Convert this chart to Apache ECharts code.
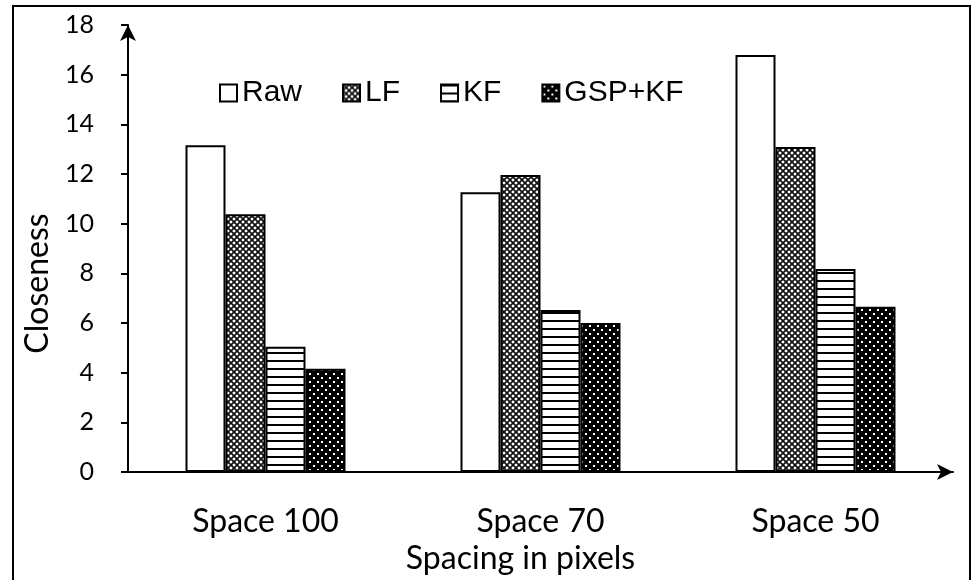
<!DOCTYPE html>
<html>
<head>
<meta charset="utf-8">
<script src="https://cdn.jsdelivr.net/npm/echarts@6/dist/echarts.min.js"></script>
<style>html,body{margin:0;padding:0;background:#fff}#c{width:972px;height:580px}</style>
</head>
<body>
<div id="c"></div>
<script>
const categories = ['Space 100', 'Space 70', 'Space 50'];
const seriesNames = ['Raw', 'LF', 'KF', 'GSP+KF'];
const rawValues = [13.16, 11.27, 16.79];
const lfValues = [10.38, 11.96, 13.09];
const kfValues = [5.04, 6.52, 8.17];
const gspKfValues = [4.16, 6.0, 6.65];
const yTicks = [0, 2, 4, 6, 8, 10, 12, 14, 16, 18];

function pattern(kind) {
  const c = document.createElement('canvas');
  let ctx;
  if (kind === 'lf') {
    c.width = 6; c.height = 6; ctx = c.getContext('2d');
    ctx.fillStyle = '#fff'; ctx.fillRect(0, 0, 6, 6);
    ctx.strokeStyle = '#111'; ctx.lineWidth = 1.7;
    ctx.beginPath();
    ctx.moveTo(-1, -1); ctx.lineTo(7, 7);
    ctx.moveTo(7, -1); ctx.lineTo(-1, 7);
    ctx.stroke();
  } else if (kind === 'kf') {
    c.width = 4; c.height = 8; ctx = c.getContext('2d');
    ctx.fillStyle = '#fff'; ctx.fillRect(0, 0, 4, 8);
    ctx.fillStyle = '#000'; ctx.fillRect(0, 0, 4, 2);
  } else {
    c.width = 8; c.height = 8; ctx = c.getContext('2d');
    ctx.fillStyle = '#000'; ctx.fillRect(0, 0, 8, 8);
    ctx.fillStyle = '#fff';
    ctx.fillRect(1, 1, 2, 2); ctx.fillRect(5, 5, 2, 2);
  }
  return { image: c, repeat: 'repeat' };
}

const fills = ['#ffffff', pattern('lf'), pattern('kf'), pattern('gsp')];
const dataSets = [rawValues, lfValues, kfValues, gspKfValues];

const chart = echarts.init(document.getElementById('c'), null, { renderer: 'canvas' });
const catFont = 'Lato';
chart.setOption({
  animation: false,
  backgroundColor: '#fff',
  graphic: [{
    type: 'rect', shape: { x: 13, y: 6, width: 957, height: 590 },
    style: { fill: 'none', stroke: '#000', lineWidth: 2 }, silent: true, z: -1
  }],
  legend: {
    left: 214, top: 73,
    itemWidth: 17, itemHeight: 17, itemGap: 40,
    icon: 'rect',
    textStyle: { fontFamily: 'Liberation Sans', fontSize: 30, color: '#000' },
    data: seriesNames
  },
  grid: { left: 128, right: 19, top: 25, bottom: 108, containLabel: false, outerBoundsMode: 'none' },
  xAxis: {
    type: 'category', data: categories,
    axisLine: { lineStyle: { color: '#000', width: 2 }, symbol: ['none', 'arrow'], symbolSize: [12, 16] },
    axisTick: { show: false },
    axisLabel: { fontFamily: catFont, fontSize: 32, color: '#000', margin: 34 },
    name: 'Spacing in pixels', nameLocation: 'middle', nameGap: 70,
    nameTextStyle: { fontFamily: catFont, fontSize: 32, color: '#000', padding: [0, 40, 0, 0] }
  },
  yAxis: {
    type: 'value', min: 0, max: 18, interval: 2,
    axisLine: { show: true, lineStyle: { color: '#000', width: 2 }, symbol: ['none', 'arrow'], symbolSize: [12, 16] },
    axisTick: { show: true, length: 7, lineStyle: { color: '#000', width: 2 } },
    splitLine: { show: false },
    axisLabel: { fontFamily: catFont, fontSize: 25, color: '#000', margin: 34 },
    name: 'Closeness', nameLocation: 'middle', nameGap: 70,
    nameTextStyle: { fontFamily: catFont, fontSize: 32, color: '#000', padding: [0, 70, 0, 0] }
  },
  series: seriesNames.map((n, i) => ({
    name: n, type: 'bar', data: dataSets[i],
    barWidth: 40, barGap: '0%',
    itemStyle: { color: fills[i], borderColor: '#000', borderWidth: 2 }
  }))
});
</script>
</body>
</html>
